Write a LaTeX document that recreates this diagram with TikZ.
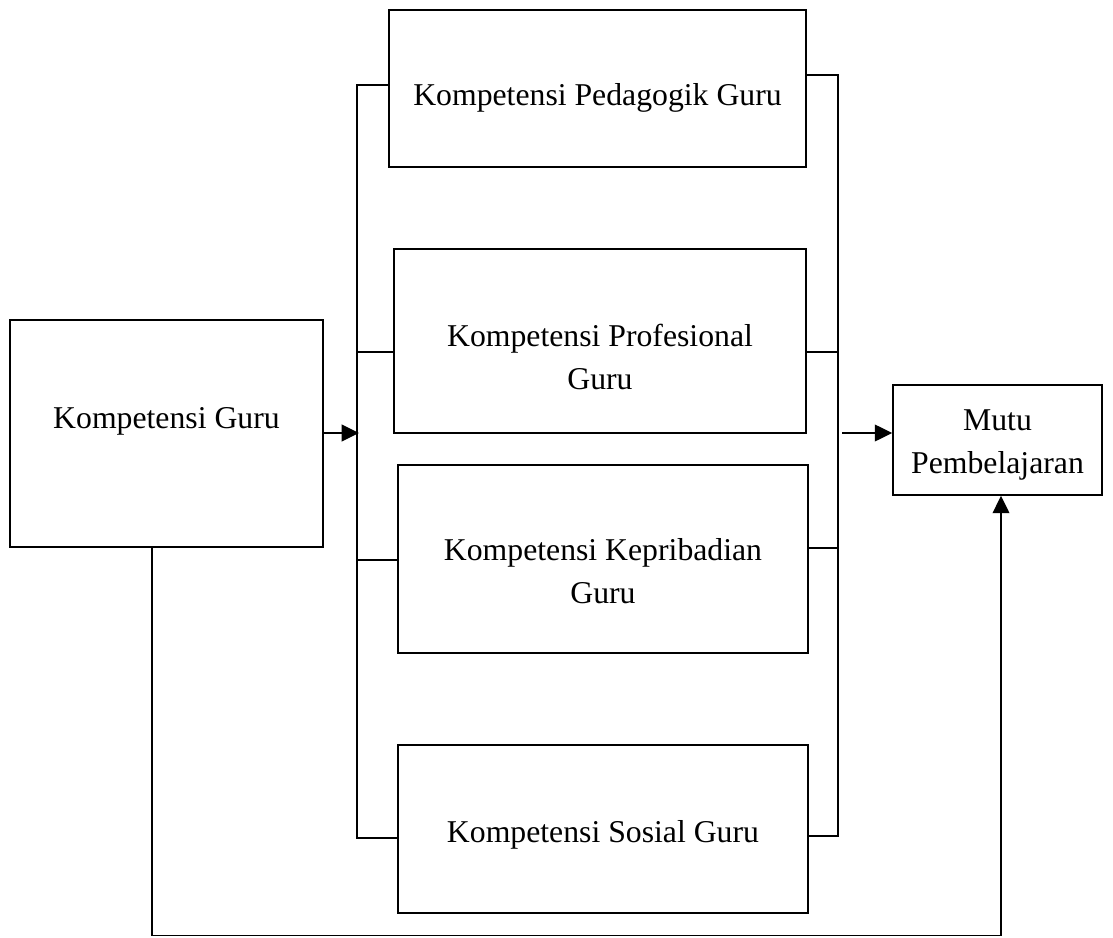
\documentclass[tikz,border=0pt]{standalone}
\usepackage{fontspec}
\setmainfont{Liberation Serif}
\usetikzlibrary{arrows.meta}
\begin{document}
\begin{tikzpicture}[x=0.75pt,y=-0.75pt,
  box/.style={draw, line width=1.2pt, inner sep=0pt},
  txt/.style={font=\fontsize{23.8}{32}\selectfont, align=center, inner sep=0pt},
  ln/.style={line width=1.2pt},
  arr/.style={line width=1.2pt, -{Triangle[length=13pt,width=12.5pt]}}]
\useasboundingbox (0,0) rectangle (1113,938);
% boxes
\node[box, minimum width=417*0.75pt, minimum height=157*0.75pt] (ped) at (597.5,88.5) {};
\node[box, minimum width=412*0.75pt, minimum height=184*0.75pt] (pro) at (600,341) {};
\node[box, minimum width=410*0.75pt, minimum height=188*0.75pt] (kep) at (603,559) {};
\node[box, minimum width=410*0.75pt, minimum height=168*0.75pt] (sos) at (603,829) {};
\node[box, minimum width=313*0.75pt, minimum height=227*0.75pt] (kg) at (166.5,433.5) {};
\node[box, minimum width=209*0.75pt, minimum height=110*0.75pt] (mp) at (997.5,440) {};
% texts
\node[txt] (pedt) at (597.5,98) {Kompetensi Pedagogik Guru};
\node[txt] (prot) at (600,357) {Kompetensi Profesional\\Guru};
\node[txt] (kept) at (603,571) {Kompetensi Kepribadian\\Guru};
\node[txt] (sost) at (603,835) {Kompetensi Sosial Guru};
\node[txt] (kgt) at (166.5,421) {Kompetensi Guru};
\node[txt] (mpt) at (997.5,445) {Mutu\\Pembelajaran};
% left bracket
\coordinate (lt) at (357,85);
\coordinate (lb) at (357,838);
\draw[ln] (ped.west |- lt) -- (lt) -- (lb) -- (sos.west |- lb);
\draw[ln] (357,352) -- (pro.west |- 0,352);
\draw[ln] (357,560) -- (kep.west |- 0,560);
% right bracket
\coordinate (rt) at (838,75);
\coordinate (rb) at (838,836);
\draw[ln] (ped.east |- rt) -- (rt) -- (rb) -- (sos.east |- rb);
\draw[ln] (838,352) -- (pro.east |- 0,352);
\draw[ln] (838,548) -- (kep.east |- 0,548);
% arrows
\coordinate (la) at (359,433);
\draw[arr] (kg.east |- la) -- (la);
\coordinate (ra) at (842,433);
\draw[arr] (ra) -- (mp.west |- ra);
% bottom loop
\coordinate (bl) at (152,935.5);
\coordinate (br) at (1001,935.5);
\draw[ln] (kg.south -| bl) -- (bl) -- (br);
\draw[arr] (br) -- (mp.south -| br);
\end{tikzpicture}
\end{document}
